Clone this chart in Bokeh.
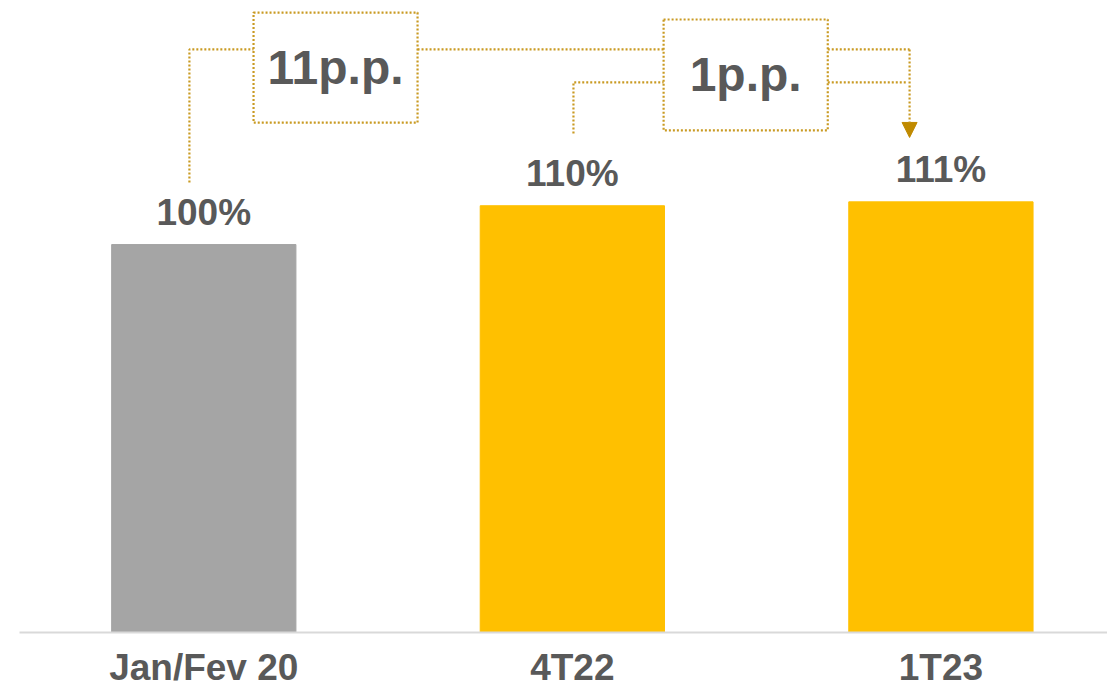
from bokeh.plotting import figure
from bokeh.models import Range1d, FixedTicker, ColumnDataSource, Arrow, NormalHead
from bokeh.core.properties import value
from bokeh.embed import file_html
from bokeh.resources import INLINE

# ---- data ----
categories = ["Jan/Fev 20", "4T22", "1T23"]
values = [100, 110, 111]
bar_colors = ["#A5A5A5", "#FFC000", "#FFC000"]
value_labels = [f"{v}%" for v in values]
delta_labels = [f"{round(values[2] - values[0])}p.p.", f"{round(values[2] - values[1])}p.p."]

FONT = value("Liberation Sans")
TXT = "#595959"
DOT = "#C99A22"
ARROW = "#C08A00"

p = figure(width=1107, height=691, output_backend="svg", toolbar_location=None,
           x_range=Range1d(-0.5, 2.452), y_range=Range1d(0, 162.9),
           min_border_left=19, min_border_right=0, min_border_top=0, min_border_bottom=59)
p.outline_line_color = None
p.grid.visible = False
p.yaxis.visible = False
p.background_fill_color = "white"
p.border_fill_color = "white"

xs = list(range(len(categories)))
src = ColumnDataSource(dict(x=xs, top=values, color=bar_colors, lab=value_labels))
p.vbar(x="x", top="top", width=0.5, bottom=0, color="color", source=src)
p.text(x="x", y="top", text="lab", source=src, text_align="center", text_baseline="alphabetic",
       y_offset=-32, text_font=FONT, text_font_style="bold", text_font_size="37px", text_color=TXT)

ax = p.xaxis[0]
ax.ticker = FixedTicker(ticks=xs)
ax.major_label_overrides = {i: c for i, c in enumerate(categories)}
ax.major_tick_line_color = None
ax.major_tick_out = 0
ax.major_tick_in = 0
ax.minor_tick_line_color = None
ax.axis_line_color = "#D9D9D9"
ax.axis_line_width = 2
ax.major_label_standoff = 14
ax.major_label_text_baseline = "alphabetic"
ax.major_label_text_font = "Liberation Sans"
ax.major_label_text_font_style = "bold"
ax.major_label_text_font_size = "37px"
ax.major_label_text_color = TXT

# ---- annotation layout (relative to data) ----
top_line = max(values) + 39.3          # upper connector
mid_line = values[1] + 31.8            # lower connector
b1 = dict(left=xs[0] + 0.135, right=xs[0] + 0.580, top=max(values) + 48.8, bottom=max(values) + 20.4)
b2 = dict(left=xs[1] + 0.2476, right=xs[1] + 0.693, top=max(values) + 47.0, bottom=max(values) + 18.4)
x_start1 = xs[0] - 0.039
x_start2 = xs[1] + 0.003
x_end = xs[2] - 0.085

dots = dict(line_color=DOT, line_width=2.2, line_dash="2 2")
p.quad(left=[b1["left"], b2["left"]], right=[b1["right"], b2["right"]],
       top=[b1["top"], b2["top"]], bottom=[b1["bottom"], b2["bottom"]],
       fill_color=None, **dots)
p.multi_line(
    xs=[[x_start1, x_start1, b1["left"]],
        [b1["right"], b2["left"]],
        [b2["right"], x_end],
        [x_start2, x_start2, b2["left"]],
        [b2["right"], x_end - 0.005]],
    ys=[[values[0] + 16, top_line, top_line],
        [top_line, top_line],
        [top_line, top_line],
        [values[1] + 18.6, mid_line, mid_line],
        [mid_line, mid_line]],
    **dots)
p.add_layout(Arrow(x_start=x_end, y_start=top_line, x_end=x_end, y_end=values[2] + 16.6,
                   line_color=DOT, line_width=2.2, line_dash="2 2",
                   end=NormalHead(size=15, fill_color=ARROW, line_color=ARROW)))

p.text(x=[(b1["left"] + b1["right"]) / 2, (b2["left"] + b2["right"]) / 2],
       y=[(b1["top"] + b1["bottom"]) / 2, (b2["top"] + b2["bottom"]) / 2],
       text=delta_labels, text_align="center", text_baseline="middle",
       text_font=FONT, text_font_style="bold", text_font_size="48px", text_color=TXT)

open("out.html", "w").write(file_html(p, INLINE))
